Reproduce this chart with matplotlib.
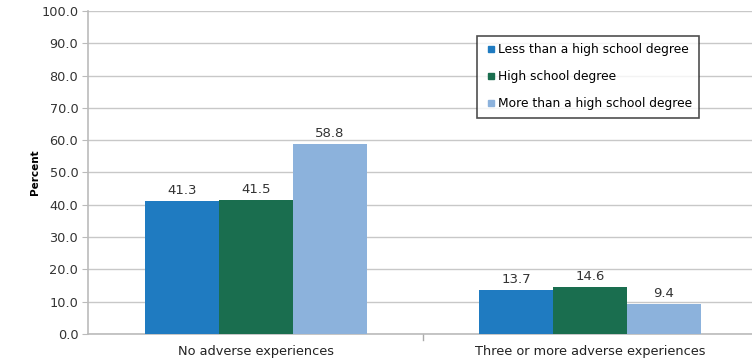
import matplotlib.pyplot as plt
from matplotlib.lines import Line2D
import numpy as np

categories = ['No adverse experiences', 'Three or more adverse experiences']
series = ['Less than a high school degree', 'High school degree', 'More than a high school degree']
values = [
    [41.3, 13.7],
    [41.5, 14.6],
    [58.8, 9.4],
]
colors = ['#1f7bc1', '#1a6e4f', '#8cb2dc']

fig = plt.figure(figsize=(7.52, 3.59), dpi=100)
ax = fig.add_axes([0.117, 0.0696, 0.883, 0.9])

x = np.arange(len(categories))
w = 0.2216
for i, (name, vals) in enumerate(zip(series, values)):
    pos = x + (i - 1) * w
    ax.bar(pos, vals, width=w, color=colors[i], label=name, zorder=3)
    for p, v in zip(pos, vals):
        ax.text(p, v + 1.2, f'{v:.1f}', ha='center', va='bottom', fontsize=9.5, color='#333333')

ax.set_ylim(0, 100)
ax.set_xlim(-0.503, 1.485)
ax.set_yticks(np.arange(0, 101, 10))
ax.set_yticklabels([f'{t:.1f}' for t in np.arange(0, 101, 10)], fontsize=9.3, color='#333333')
ax.yaxis.grid(True, color='#c8c8c8', linewidth=1, zorder=0)

ax.set_xticks(x)
ax.set_xticklabels(categories, fontsize=9.3, color='#222222')
ax.tick_params(axis='x', length=0, pad=8)
ax.tick_params(axis='y', length=4, color='#bbbbbb', pad=3)
# separator tick between categories
ax.plot([0.5, 0.5], [0, -1.8], color='#aaaaaa', lw=1, clip_on=False)

for s in ['top', 'right']:
    ax.spines[s].set_visible(False)
for s in ['left', 'bottom']:
    ax.spines[s].set_color('#bbbbbb')
    ax.spines[s].set_linewidth(1.2)

ax.set_ylabel('Percent', fontsize=7.5, fontweight='bold')
ax.yaxis.set_label_coords(-0.073, 0.5)

handles = [Line2D([], [], marker='s', linestyle='none', markersize=5,
                  markerfacecolor=c, markeredgecolor=c) for c in colors]
leg = ax.legend(handles, series, loc='upper left', bbox_to_anchor=(0.586, 0.9226),
                fontsize=8.8, frameon=True, fancybox=False, handletextpad=0.1,
                handlelength=1.0, labelspacing=1.15, borderpad=0.6, borderaxespad=0)
leg.get_frame().set_edgecolor('#222222')
leg.get_frame().set_linewidth(1.2)

fig.savefig('out.png', dpi=100)
